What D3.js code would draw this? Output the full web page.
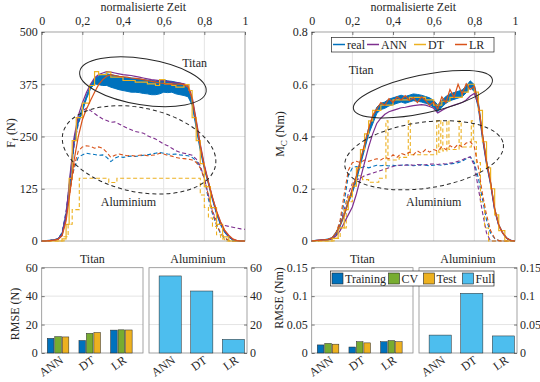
<!DOCTYPE html>
<html>
<head>
<meta charset="utf-8">
<script src="https://cdn.jsdelivr.net/npm/d3@7/dist/d3.min.js"></script>
<style>
  body { margin: 0; background: #fff; }
  svg text { font-family: "Liberation Serif", "Times New Roman", Times, serif; fill: #262626; }
</style>
</head>
<body>
<div id="chart"></div>
<script>
// time grid of the curves (normalised time)
var T = [0,0.02,0.04,0.06,0.08,0.1,0.12,0.14,0.16,0.18,0.2,0.22,0.24,0.26,0.28,0.3,0.32,0.34,0.36,0.38,0.4,0.42,0.44,0.46,0.48,0.5,0.52,0.54,0.56,0.58,0.6,0.62,0.64,0.66,0.68,0.7,0.72,0.74,0.76,0.78,0.8,0.82,0.84,0.86,0.88,0.9,0.92,0.94,0.96,0.98,1];

// F_f (N), Titan (solid)
var ffTiRealHi = [0,1,2,3,6,18,65,155,245,290, 318,348,372,388,395,398,400,398,396,394, 392,390,390,389,388,386,385,384,383,384, 386,383,382,380,378,375,368,335,280,224, 178,140,102,68,42,23,11,3,1,0, 0];
var ffTiRealLo = [0,0,1,2,4,12,55,140,235,282, 310,340,364,376,374,372,372,368,365,362, 360,358,356,356,355,353,352,350,350,352, 356,355,356,352,350,348,345,325,270,216, 172,136,98,64,38,20,9,2,0,0, 0];
var ffTiAnn = [0,0,1,2,5,16,62,160,250,300, 330,355,375,390,398,402,405,404,402,400, 398,397,396,394,392,390,388,386,385,384, 383,382,380,379,378,376,372,345,290,232, 182,142,104,70,44,24,12,4,1,0, 0];
var ffTiLr = [0,0,1,2,4,12,48,120,195,250, 290,315,336,356,374,386,394,398,396,394, 393,392,390,389,388,386,384,382,380,378, 377,375,376,375,376,374,368,340,285,228, 178,140,104,72,46,26,14,5,1,0, 0];
var ffTiDt = [[0,0],[0.1,5],[0.12,40],[0.135,150],[0.15,240],[0.17,295],[0.2,330],[0.235,372],[0.26,405],[0.28,398],[0.32,404],[0.34,392],[0.4,384],[0.46,380],[0.52,376],[0.56,372],[0.58,386],[0.605,376],[0.64,372],[0.66,368],[0.7,374],[0.725,360],[0.74,295],[0.76,240],[0.78,185],[0.8,130],[0.83,80],[0.86,40],[0.89,10],[0.92,0],[1,0]];

// F_f (N), Aluminium (dashed)
var ffAlReal = [0,0,1,2,5,20,70,130,175,200, 206,210,208,207,205,206,200,190,198,202, 200,202,203,202,204,205,206,208,210,212, 210,208,207,208,206,205,204,200,192,175, 150,100,65,38,18,6,1,0,0,0, 0];
var ffAlAnn = [0,0,1,2,4,15,70,150,230,280, 310,318,312,305,298,292,288,284,285,280, 275,270,266,262,260,258,252,248,244,238, 232,228,222,216,212,210,208,205,196,180, 150,110,72,48,40,37,35,33,31,29, 28];
var ffAlLr = [0,0,1,2,4,15,60,120,180,215, 225,228,226,222,225,222,212,200,205,208, 206,204,205,203,205,206,204,205,206,210, 208,205,203,200,198,197,196,194,188,175, 150,110,70,40,20,8,2,0,0,0, 0];
var ffAlDt = [[0,0],[0.11,10],[0.13,40],[0.15,75],[0.185,150],[0.33,140],[0.37,150],[0.78,110],[0.8,80],[0.82,55],[0.84,35],[0.86,15],[0.88,5],[0.9,0],[1,0]];

// M_C (Nm), Titan (solid)
var mcTiRealHi = [0,0.003,0.004,0.005,0.008,0.013,0.034,0.064,0.104,0.155, 0.196,0.248,0.308,0.37,0.432,0.472,0.512,0.527,0.532,0.543, 0.548,0.553,0.558,0.553,0.558,0.563,0.561,0.558,0.553,0.548, 0.538,0.521,0.538,0.553,0.563,0.568,0.573,0.578,0.593,0.613, 0.598,0.532,0.41,0.308,0.226,0.125,0.063,0.032,0.012,0.003, 0];
var mcTiRealLo = [0,0.001,0.002,0.003,0.004,0.007,0.026,0.056,0.096,0.145, 0.184,0.232,0.292,0.35,0.408,0.448,0.488,0.503,0.508,0.517, 0.522,0.527,0.532,0.527,0.532,0.537,0.535,0.532,0.527,0.522, 0.512,0.495,0.512,0.527,0.537,0.542,0.547,0.552,0.567,0.587, 0.572,0.508,0.39,0.292,0.214,0.115,0.057,0.028,0.008,0.001, 0];
var mcTiAnn = [0,0.002,0.003,0.004,0.005,0.008,0.02,0.04,0.07,0.1, 0.13,0.18,0.24,0.3,0.36,0.41,0.45,0.47,0.485,0.495, 0.5,0.505,0.51,0.512,0.515,0.518,0.52,0.522,0.52,0.515, 0.508,0.49,0.5,0.508,0.515,0.52,0.525,0.53,0.54,0.555, 0.565,0.52,0.4,0.3,0.22,0.12,0.06,0.03,0.01,0.002, 0];
var mcTiLr = [0,0.002,0.003,0.004,0.006,0.012,0.032,0.062,0.1,0.15, 0.2,0.25,0.31,0.37,0.43,0.48,0.505,0.53,0.52,0.545, 0.53,0.552,0.54,0.556,0.538,0.548,0.53,0.552,0.538,0.52, 0.532,0.505,0.552,0.53,0.58,0.55,0.6,0.562,0.602,0.58, 0.592,0.52,0.41,0.305,0.225,0.125,0.062,0.03,0.01,0.002, 0];
var mcTiDt = [[0,0],[0.1,0.01],[0.13,0.05],[0.16,0.12],[0.18,0.17],[0.2,0.21],[0.22,0.28],[0.24,0.35],[0.26,0.41],[0.28,0.46],[0.3,0.5],[0.34,0.52],[0.4,0.54],[0.48,0.55],[0.56,0.54],[0.6,0.52],[0.64,0.535],[0.68,0.55],[0.74,0.57],[0.77,0.6],[0.8,0.57],[0.82,0.5],[0.84,0.38],[0.86,0.28],[0.88,0.2],[0.9,0.1],[0.92,0.04],[0.95,0],[1,0]];

// M_C (Nm), Aluminium (dashed)
var mcAlReal = [0,0.001,0.002,0.003,0.005,0.01,0.03,0.07,0.15,0.25, 0.28,0.285,0.28,0.285,0.28,0.285,0.29,0.288,0.29,0.287, 0.29,0.288,0.29,0.292,0.29,0.288,0.29,0.292,0.29,0.288, 0.29,0.292,0.29,0.293,0.295,0.297,0.3,0.305,0.315,0.322, 0.3,0.24,0.16,0.08,0.03,0.01,0.002,0,0,0, 0];
var mcAlAnn = [0,0.001,0.002,0.003,0.005,0.008,0.02,0.06,0.12,0.18, 0.22,0.235,0.24,0.25,0.255,0.26,0.265,0.27,0.275,0.28, 0.285,0.29,0.29,0.29,0.292,0.29,0.293,0.29,0.292,0.294, 0.295,0.293,0.296,0.295,0.298,0.3,0.305,0.31,0.318,0.322, 0.29,0.2,0.11,0.03,0,0,0,0,0,0, 0];
var mcAlLr = [0,0.001,0.002,0.003,0.005,0.01,0.03,0.08,0.18,0.27, 0.3,0.305,0.3,0.31,0.305,0.31,0.315,0.31,0.32,0.315, 0.33,0.32,0.335,0.33,0.34,0.33,0.345,0.335,0.35,0.34, 0.35,0.345,0.36,0.35,0.365,0.355,0.37,0.36,0.375,0.38, 0.36,0.28,0.18,0.1,0.04,0.01,0.002,0,0,0, 0];
var mcAlDt = [[0,0],[0.11,0.01],[0.14,0.05],[0.17,0.15],[0.2,0.22],[0.22,0.25],[0.25,0.235],[0.28,0.225],[0.33,0.24],[0.365,0.46],[0.375,0.31],[0.43,0.32],[0.475,0.46],[0.485,0.33],[0.615,0.46],[0.625,0.34],[0.635,0.46],[0.645,0.345],[0.665,0.46],[0.675,0.35],[0.725,0.46],[0.735,0.36],[0.785,0.46],[0.795,0.38],[0.81,0.3],[0.83,0.15],[0.85,0.05],[0.87,0],[1,0]];

// axis ticks
var timeTicks = [0, 0.2, 0.4, 0.6, 0.8, 1];
var timeTickLabels = ["0", "0,2", "0,4", "0,6", "0,8", "1"];
var ffTicks = [0, 125, 250, 375, 500];
var mcTicks = [0, 0.2, 0.4, 0.6, 0.8];
var rmseFfTicks = [0, 20, 40, 60];
var rmseMcTicks = [0, 0.05, 0.1, 0.15];

// RMSE bars
var models = ["ANN", "DT", "LR"];
var splits = ["Training", "CV", "Test"];
var rmseFfTi = [[10.3, 11.5, 11.3], [8.8, 13.8, 14.4], [16.1, 16.3, 16.2]];
var rmseFfAl = [54.2, 43.6, 9.6];
var rmseMcTi = [[0.0142, 0.0168, 0.0155], [0.0105, 0.0198, 0.0178], [0.0198, 0.0218, 0.0198]];
var rmseMcAl = [0.0315, 0.105, 0.030];

var seriesColor = { real: "#0072BD", ANN: "#7E2F8E", DT: "#EDB120", LR: "#D95319" };
var splitColor = { Training: "#0072BD", CV: "#77AC30", Test: "#EDB120", Full: "#4DBEEE" };
var gridColor = "#e4e4e4", boxColor = "#8c8c8c", textColor = "#262626";
var serif = "Liberation Serif, Times New Roman, Times, serif";

var svg = d3.select("#chart").append("svg").attr("width", 540).attr("height", 382)
    .attr("font-family", serif);

function styleAxis(g) {
    g.attr("font-family", null).attr("font-size", null);
    g.select(".domain").remove();
    g.selectAll(".tick line").attr("stroke", textColor).attr("stroke-width", 0.6);
    g.selectAll(".tick text").attr("font-size", 12).attr("font-family", serif).attr("fill", textColor);
}

function yLabel(xPos, yPos, main, sub, unit) {
    var t = svg.append("text")
        .attr("transform", "translate(" + xPos + "," + yPos + ") rotate(-90)")
        .attr("text-anchor", "middle")
        .attr("font-size", 12);
    t.append("tspan").text(main);
    if (sub) {
        t.append("tspan").attr("font-size", 9).attr("dy", 3).text(sub);
        t.append("tspan").attr("dy", -3).text(" " + unit);
    } else {
        t.append("tspan").text(" " + unit);
    }
}

function drawLinePanel(opt) {
    var top = 32, bottom = 241, w = 203.3;
    var x = d3.scaleLinear().domain([0, 1]).range([opt.left, opt.left + w]);
    var y = d3.scaleLinear().domain([0, opt.yMax]).range([bottom, top]);
    var g = svg.append("g");

    // grid
    g.append("g").selectAll("line").data(timeTicks.slice(1, -1)).enter().append("line")
        .attr("x1", function (d) { return x(d); }).attr("x2", function (d) { return x(d); })
        .attr("y1", top).attr("y2", bottom).attr("stroke", gridColor);
    g.append("g").selectAll("line").data(opt.yTicks.slice(1, -1)).enter().append("line")
        .attr("y1", function (d) { return y(d); }).attr("y2", function (d) { return y(d); })
        .attr("x1", opt.left).attr("x2", opt.left + w).attr("stroke", gridColor);

    g.append("rect").attr("x", opt.left).attr("y", top).attr("width", w).attr("height", bottom - top)
        .attr("fill", "none").attr("stroke", boxColor).attr("stroke-width", 0.8);

    g.append("g").attr("transform", "translate(0," + top + ")")
        .call(d3.axisTop(x).tickValues(timeTicks)
            .tickFormat(function (d, i) { return timeTickLabels[i]; })
            .tickSize(-3).tickPadding(7))
        .call(styleAxis);
    g.append("g").attr("transform", "translate(" + opt.left + ",0)")
        .call(d3.axisLeft(y).tickValues(opt.yTicks)
            .tickFormat(function (d) { return String(d); })
            .tickSize(-3).tickPadding(4))
        .call(styleAxis);

    g.append("text").attr("x", opt.left + w / 2).attr("y", 10.5).attr("text-anchor", "middle")
        .attr("font-size", 12).text("normalisierte Zeit");

    var line = d3.line()
        .x(function (d, i) { return x(T[i]); })
        .y(function (d) { return y(d); });
    var stepLine = d3.line().curve(d3.curveStepAfter)
        .x(function (d) { return x(d[0]); })
        .y(function (d) { return y(d[1]); });
    var band = d3.area()
        .x(function (d, i) { return x(T[i]); })
        .y0(function (d, i) { return y(opt.tiLo[i]); })
        .y1(function (d) { return y(d); });

    // Aluminium, dashed
    var al = [
        { d: line(opt.alReal), c: seriesColor.real },
        { d: line(opt.alAnn), c: seriesColor.ANN },
        { d: stepLine(opt.alDt), c: seriesColor.DT },
        { d: line(opt.alLr), c: seriesColor.LR }
    ];
    g.append("g").selectAll("path").data(al).enter().append("path")
        .attr("d", function (d) { return d.d; })
        .attr("fill", "none").attr("stroke", function (d) { return d.c; })
        .attr("stroke-width", 1.1).attr("stroke-dasharray", "4,2.5");

    // Titan, solid
    g.append("path").attr("d", band(opt.tiHi))
        .attr("fill", seriesColor.real).attr("stroke", seriesColor.real).attr("stroke-width", 1);
    var ti = [
        { d: line(opt.tiAnn), c: seriesColor.ANN },
        { d: stepLine(opt.tiDt), c: seriesColor.DT },
        { d: line(opt.tiLr), c: seriesColor.LR }
    ];
    g.append("g").selectAll("path").data(ti).enter().append("path")
        .attr("d", function (d) { return d.d; })
        .attr("fill", "none").attr("stroke", function (d) { return d.c; })
        .attr("stroke-width", 1.2);

    // ellipses and material labels
    opt.ellipses.forEach(function (e) {
        var cx = x(e.t), cy = y(e.v);
        g.append("ellipse").attr("cx", cx).attr("cy", cy).attr("rx", e.rx).attr("ry", e.ry)
            .attr("transform", "rotate(" + e.rot + "," + cx + "," + cy + ")")
            .attr("fill", "none").attr("stroke", textColor).attr("stroke-width", 1)
            .attr("stroke-dasharray", e.dash ? "4,3" : null);
    });
    opt.labels.forEach(function (l) {
        g.append("text").attr("x", x(l.t)).attr("y", y(l.v)).attr("text-anchor", "middle")
            .attr("font-size", 12).text(l.text);
    });
}

function drawBarPanels(opt) {
    var top = 267.7, bottom = 353;
    var tiL = opt.left, tiW = 101.3, alL = opt.left + 107.3, alW = 98;
    var y = d3.scaleLinear().domain([0, opt.yMax]).range([bottom, top]);
    var g = svg.append("g");

    [[tiL, tiW, "Titan"], [alL, alW, "Aluminium"]].forEach(function (p) {
        g.append("g").selectAll("line").data(opt.yTicks.slice(1, -1)).enter().append("line")
            .attr("x1", p[0]).attr("x2", p[0] + p[1])
            .attr("y1", function (d) { return y(d); }).attr("y2", function (d) { return y(d); })
            .attr("stroke", gridColor);
        g.append("rect").attr("x", p[0]).attr("y", top).attr("width", p[1]).attr("height", bottom - top)
            .attr("fill", "none").attr("stroke", boxColor).attr("stroke-width", 0.8);
        g.append("text").attr("x", p[0] + p[1] / 2).attr("y", 263).attr("text-anchor", "middle")
            .attr("font-size", 12).text(p[2]);
    });

    g.append("g").attr("transform", "translate(" + tiL + ",0)")
        .call(d3.axisLeft(y).tickValues(opt.yTicks).tickFormat(function (d) { return String(d); })
            .tickSize(-3).tickPadding(4))
        .call(styleAxis);
    g.append("g").attr("transform", "translate(" + (alL + alW) + ",0)")
        .call(d3.axisRight(y).tickValues(opt.yTicks).tickFormat(function (d) { return String(d); })
            .tickSize(-3).tickPadding(3))
        .call(styleAxis);

    var x0 = d3.scaleBand().domain(models).range([tiL, tiL + tiW])
        .paddingInner(0.32).paddingOuter(0.26).align(0.34);
    var x1 = d3.scaleBand().domain(splits).range([0, x0.bandwidth()]).paddingInner(0.12);
    var xa = d3.scaleBand().domain(models).range([alL, alL + alW])
        .paddingInner(0.3).paddingOuter(0.2).align(0.8);

    var grp = g.append("g").selectAll("g").data(opt.ti).enter().append("g")
        .attr("transform", function (d, i) { return "translate(" + x0(models[i]) + ",0)"; });
    grp.selectAll("rect")
        .data(function (d) { return d.map(function (v, j) { return { key: splits[j], value: v }; }); })
        .enter().append("rect")
        .attr("x", function (d) { return x1(d.key); })
        .attr("y", function (d) { return y(d.value); })
        .attr("width", x1.bandwidth())
        .attr("height", function (d) { return bottom - y(d.value); })
        .attr("fill", function (d) { return splitColor[d.key]; })
        .attr("stroke", "#262626").attr("stroke-width", 0.5);

    g.append("g").selectAll("rect").data(opt.al).enter().append("rect")
        .attr("x", function (d, i) { return xa(models[i]); })
        .attr("y", function (d) { return y(d); })
        .attr("width", xa.bandwidth())
        .attr("height", function (d) { return bottom - y(d); })
        .attr("fill", splitColor.Full)
        .attr("stroke", "#262626").attr("stroke-width", 0.5);

    // rotated category labels
    [x0, xa].forEach(function (sc) {
        g.append("g").selectAll("text").data(models).enter().append("text")
            .attr("transform", function (d) {
                return "translate(" + (sc(d) + sc.bandwidth() / 2 + 6) + ",362) rotate(-35)";
            })
            .attr("text-anchor", "end").attr("font-size", 12).text(function (d) { return d; });
    });
}

drawLinePanel({
    left: 41.7, yMax: 500, yTicks: ffTicks,
    tiHi: ffTiRealHi, tiLo: ffTiRealLo, tiAnn: ffTiAnn, tiLr: ffTiLr, tiDt: ffTiDt,
    alReal: ffAlReal, alAnn: ffAlAnn, alLr: ffAlLr, alDt: ffAlDt,
    ellipses: [
        { t: 0.498, v: 381, rx: 64, ry: 23, rot: 9, dash: false },
        { t: 0.479, v: 218, rx: 78, ry: 42, rot: 12, dash: true }
    ],
    labels: [
        { t: 0.752, v: 416, text: "Titan" },
        { t: 0.427, v: 84, text: "Aluminium" }
    ]
});
drawLinePanel({
    left: 311.7, yMax: 0.8, yTicks: mcTicks,
    tiHi: mcTiRealHi, tiLo: mcTiRealLo, tiAnn: mcTiAnn, tiLr: mcTiLr, tiDt: mcTiDt,
    alReal: mcAlReal, alAnn: mcAlAnn, alLr: mcAlLr, alDt: mcAlDt,
    ellipses: [
        { t: 0.547, v: 0.562, rx: 71, ry: 19, rot: -12, dash: false },
        { t: 0.553, v: 0.328, rx: 80, ry: 33, rot: -8, dash: true }
    ],
    labels: [
        { t: 0.243, v: 0.639, text: "Titan" },
        { t: 0.6, v: 0.134, text: "Aluminium" }
    ]
});

drawBarPanels({ left: 41.7, yMax: 60, yTicks: rmseFfTicks, ti: rmseFfTi, al: rmseFfAl });
drawBarPanels({ left: 311.7, yMax: 0.15, yTicks: rmseMcTicks, ti: rmseMcTi, al: rmseMcAl });

yLabel(15, 133, "F", "f", "(N)");
yLabel(284, 134, "M", "C", "(Nm)");
yLabel(19, 314, "RMSE", null, "(N)");
yLabel(283, 298, "RMSE", null, "(Nm)");

// legend of the curves
var lineLegend = [
    { name: "real", c: seriesColor.real, x: 333 },
    { name: "ANN", c: seriesColor.ANN, x: 367 },
    { name: "DT", c: seriesColor.DT, x: 414 },
    { name: "LR", c: seriesColor.LR, x: 455 }
];
var lg = svg.append("g");
lg.append("rect").attr("x", 331.5).attr("y", 37.5).attr("width", 162.5).attr("height", 14.5)
    .attr("fill", "#fff").attr("stroke", textColor).attr("stroke-width", 0.7);
lineLegend.forEach(function (d) {
    lg.append("line").attr("x1", d.x).attr("x2", d.x + 12).attr("y1", 44.5).attr("y2", 44.5)
        .attr("stroke", d.c).attr("stroke-width", 1.5);
    lg.append("text").attr("x", d.x + 14).attr("y", 48.5).attr("font-size", 12).text(d.name);
});

// legend of the bars
var barLegend = [
    { name: "Training", x: 332 },
    { name: "CV", x: 388.5 },
    { name: "Test", x: 423.5 },
    { name: "Full", x: 462.5 }
];
var bl = svg.append("g");
bl.append("rect").attr("x", 330.5).attr("y", 271).attr("width", 163.5).attr("height", 15)
    .attr("fill", "#fff").attr("stroke", textColor).attr("stroke-width", 0.7);
barLegend.forEach(function (d) {
    bl.append("rect").attr("x", d.x).attr("y", 273).attr("width", 11).attr("height", 11)
        .attr("fill", splitColor[d.name]).attr("stroke", "#262626").attr("stroke-width", 0.6);
    bl.append("text").attr("x", d.x + 13).attr("y", 282.5).attr("font-size", 12).text(d.name);
});
</script>
</body>
</html>
